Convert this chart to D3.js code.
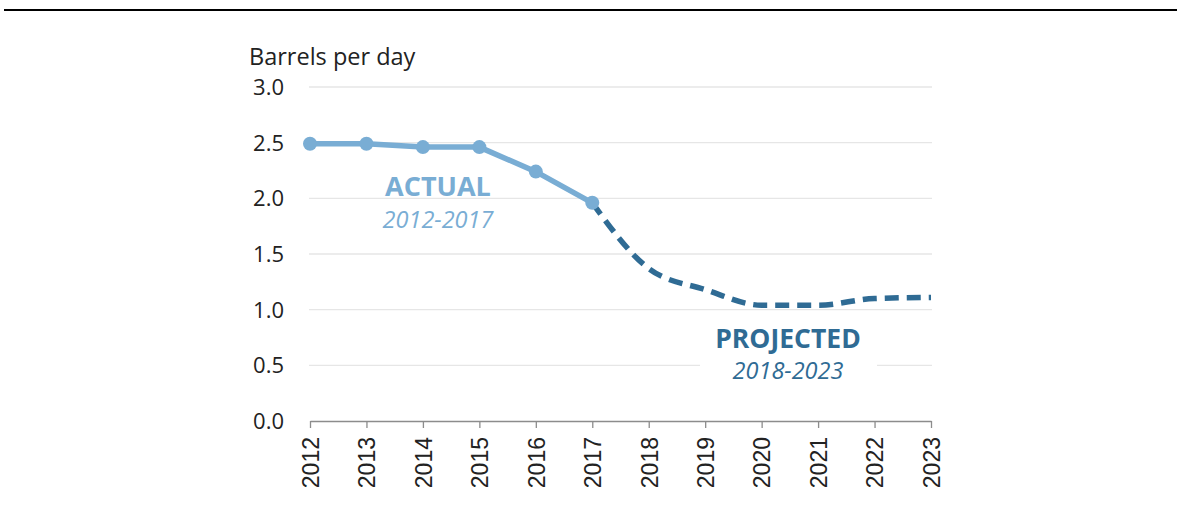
<!DOCTYPE html>
<html><head><meta charset="utf-8">
<script src="https://cdn.jsdelivr.net/npm/d3@7"></script>
<style>body{margin:0;background:#fff}svg{display:block}</style>
</head><body>
<svg id="c" width="1177" height="506"></svg>
<script>
const years = [2012,2013,2014,2015,2016,2017,2018,2019,2020,2021,2022,2023];
const actualYears = [2012,2013,2014,2015,2016,2017];
const actualValues = [2.49,2.49,2.46,2.46,2.24,1.96];
const projYears = [2017,2018,2019,2020,2021,2022,2023];
const projValues = [1.96,1.37,1.18,1.04,1.04,1.10,1.11];
const yTicks = [0,0.5,1.0,1.5,2.0,2.5,3.0];

const svg = d3.select("#c");
const font = "'Open Sans', Lato, sans-serif";
svg.append("line").attr("x1",4).attr("x2",1177).attr("y1",10).attr("y2",10)
  .attr("stroke","#000").attr("stroke-width",2);

const x = d3.scalePoint().domain(years).range([310,931]);
const y = d3.scaleLinear().domain([0,3]).range([421,87]);

// gridlines
svg.append("g").selectAll("line").data(yTicks.filter(d=>d>0)).join("line")
  .attr("x1",309).attr("x2",932).attr("y1",d=>y(d)).attr("y2",d=>y(d))
  .attr("stroke","#e6e6e6").attr("stroke-width",1.3);

// y labels
svg.append("g").selectAll("text").data(yTicks).join("text")
  .attr("x",284).attr("y",d=>y(d)+8).attr("text-anchor","end")
  .attr("font-family",font).attr("font-size",22).attr("fill","#222")
  .text(d=>d3.format(".1f")(d));

svg.append("text").attr("x",249).attr("y",65).attr("font-family",font)
  .attr("font-size",23.5).attr("fill","#222").text("Barrels per day");

// x axis
const xa = svg.append("g").attr("transform","translate(0,421)")
  .call(d3.axisBottom(x).tickSize(7).tickSizeOuter(0));
xa.select(".domain").attr("stroke","#8c8c8c").attr("stroke-width",1.3);
xa.selectAll(".tick line").attr("stroke","#8c8c8c").attr("stroke-width",1.3);
xa.selectAll(".tick text").attr("font-family","'Liberation Sans', Arial, sans-serif")
  .attr("font-size",23).attr("fill","#222")
  .attr("transform","rotate(-90)").attr("text-anchor","end")
  .attr("x",-16).attr("y",0).attr("dy","0.36em");

// projected
const lp = d3.line().x((d,i)=>x(projYears[i])).y(d=>y(d)).curve(d3.curveMonotoneX);
svg.append("path").datum(projValues).attr("d",lp).attr("fill","none")
  .attr("stroke","#2f6b94").attr("stroke-width",5.5).attr("stroke-dasharray","14,8");

// actual
const la = d3.line().x((d,i)=>x(actualYears[i])).y(d=>y(d));
svg.append("path").datum(actualValues).attr("d",la).attr("fill","none")
  .attr("stroke","#79add4").attr("stroke-width",5.5);
svg.append("g").selectAll("circle").data(actualValues).join("circle")
  .attr("cx",(d,i)=>x(actualYears[i])).attr("cy",d=>y(d)).attr("r",7).attr("fill","#79add4");

// labels
svg.append("text").attr("x",438).attr("y",196).attr("text-anchor","middle")
  .attr("font-family",font).attr("font-weight","bold").attr("font-size",27)
  .attr("fill","#79add4").text("ACTUAL");
svg.append("text").attr("x",438).attr("y",228).attr("text-anchor","middle")
  .attr("font-family",font).attr("font-style","italic").attr("font-size",23.5)
  .attr("fill","#79add4").text("2012-2017");
svg.append("rect").attr("x",700).attr("y",357).attr("width",177).attr("height",24).attr("fill","#fff");
svg.append("text").attr("x",788).attr("y",348).attr("text-anchor","middle")
  .attr("font-family",font).attr("font-weight","bold").attr("font-size",26.5)
  .attr("fill","#2f6b94").text("PROJECTED");
svg.append("text").attr("x",788).attr("y",379).attr("text-anchor","middle")
  .attr("font-family",font).attr("font-style","italic").attr("font-size",23.5)
  .attr("fill","#2f6b94").text("2018-2023");
</script>
</body></html>
